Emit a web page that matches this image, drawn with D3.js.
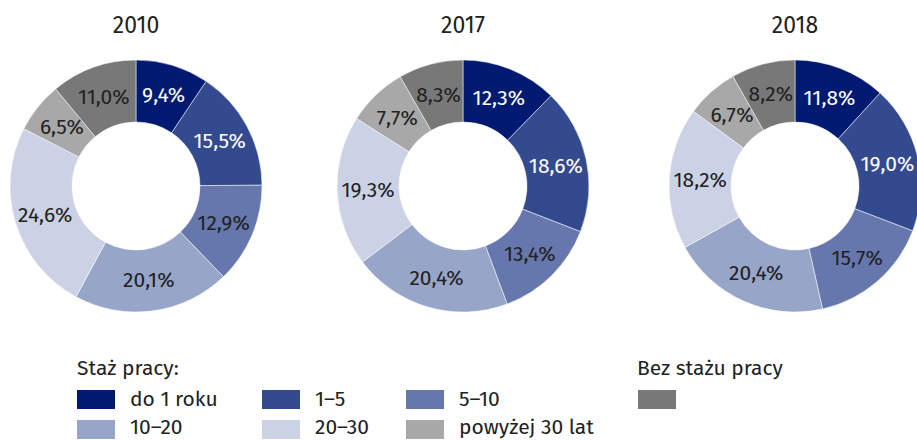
<!DOCTYPE html>
<html><head><meta charset="utf-8">
<script src="https://cdn.jsdelivr.net/npm/d3@7"></script>
<style>body{margin:0;background:#fff}svg{display:block}text{font-family:"Fira Sans","Noto Sans",sans-serif}</style>
</head><body><svg id="c" width="917" height="441"></svg>
<script>
const categories = ["do 1 roku","1–5","5–10","10–20","20–30","powyżej 30 lat","Bez stażu pracy"];
const colors = ["#001A72","#344A8F","#6577AD","#97A5C9","#CCD2E5","#A8A8A8","#787878"];
const labelColors = ["#fff","#fff","#222","#222","#222","#222","#222"];
const years = ["2010","2017","2018"];
const values2010 = [9.4,15.5,12.9,20.1,24.6,6.5,11.0];
const values2017 = [12.3,18.6,13.4,20.4,19.3,7.7,8.3];
const values2018 = [11.8,19.0,15.7,20.4,18.2,6.7,8.2];
const series = [values2010, values2017, values2018];
const centersX = [136, 463, 795];

const svg = d3.select("#c");
const outerR = 126, innerR = 64;
const pie = d3.pie().sort(null).value(d=>d);
const arc = d3.arc().innerRadius(innerR).outerRadius(outerR);
const fmt = v => v.toFixed(1).replace(".", ",") + "%";

series.forEach((vals, i) => {
  const g = svg.append("g").attr("transform", `translate(${centersX[i]},186)`);
  const arcs = pie(vals);
  g.selectAll("path").data(arcs).join("path")
    .attr("d", arc).attr("fill", (d,j)=>colors[j])
    .attr("stroke","#fff").attr("stroke-width",0.5);
  g.selectAll("text.l").data(arcs).join("text").attr("class","l")
    .attr("transform", d => `translate(${arc.centroid(d)})`)
    .attr("text-anchor","middle").attr("dy","0.35em")
    .attr("font-size",21).attr("fill",(d,j)=>labelColors[j])
    .text(d=>fmt(d.data));
  svg.append("text").attr("x", centersX[i]).attr("y", 33)
    .attr("text-anchor","middle").attr("font-size",23).attr("fill","#222").text(years[i]);
});

// legend
const lg = svg.append("g");
lg.append("text").attr("x",77).attr("y",375).attr("font-size",21).attr("fill","#222").text("Staż pracy:");
lg.append("text").attr("x",637).attr("y",375).attr("font-size",21).attr("fill","#222").text("Bez stażu pracy");
const legendPos = [[77,390],[262,390],[406,390],[77,420],[262,420],[406,420],[638,390]];
categories.forEach((c,j) => {
  const [x,y] = legendPos[j];
  lg.append("rect").attr("x",x).attr("y",y).attr("width",38).attr("height",19).attr("fill",colors[j]);
  if (j < 6) lg.append("text").attr("x",x+53).attr("y",y + (j < 3 ? 16 : 14)).attr("font-size",21).attr("fill","#222").text(c);
});
</script></body></html>
